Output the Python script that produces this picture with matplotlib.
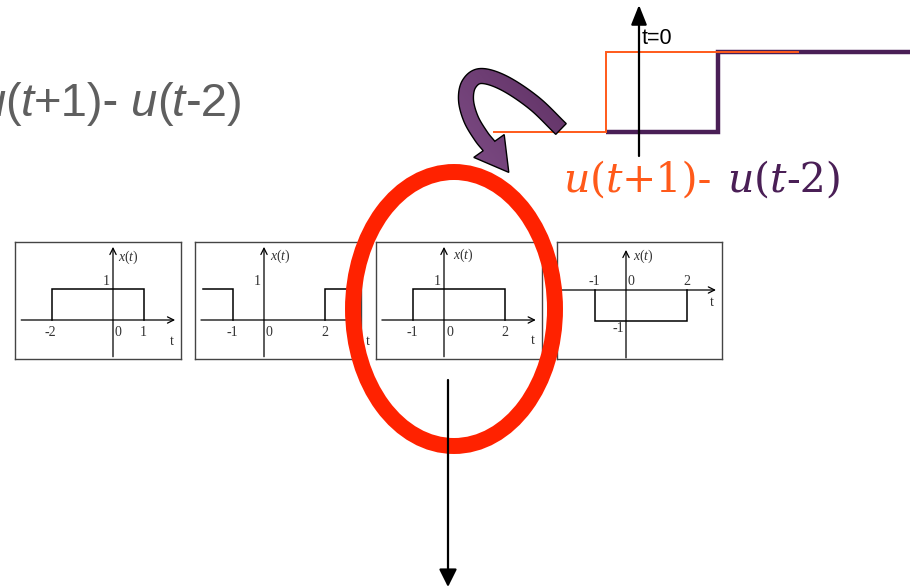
import matplotlib
matplotlib.use("Agg")
import matplotlib.pyplot as plt
from matplotlib.patches import Ellipse, Polygon
from matplotlib.colors import LinearSegmentedColormap
import numpy as np

W, H = 919, 588

# ---------------- data ----------------
# u(t+1) and u(t-2) step traces (top right)
u_plus_t = [-4, -1, -1, 4.15]
u_plus_v = [0, 0, 1, 1]
u_minus_t = [-1, 2, 2, 7.15]
u_minus_v = [0, 0, 1, 1]

# four candidate x(t) panels
p1_segments = [([-2, -2, 1, 1], [0, 1, 1, 0])]
p2_segments = [([-2, -1, -1], [1, 1, 0]), ([2, 2, 3], [0, 1, 1])]
p3_segments = [([-1, -1, 2, 2], [0, 1, 1, 0])]
p4_segments = [([-1, -1, 2, 2], [0, -1, -1, 0])]

p1_ticks = [-2, 0, 1]
p1_ticklabels = ["-2", "0", "1"]
p2_ticks = [-1, 0, 2]
p2_ticklabels = ["-1", "0", "2"]
p3_ticks = [-1, 0, 2]
p3_ticklabels = ["-1", "0", "2"]
p4_ticks = [-1, 0, 2]
p4_ticklabels = ["-1", "0", "2"]
p1_level = (1, "1")
p2_level = (1, "1")
p3_level = (1, "1")
p4_level = (-1, "-1")

plt.rcParams["mathtext.fontset"] = "custom"
plt.rcParams["mathtext.rm"] = "Liberation Serif"
plt.rcParams["mathtext.it"] = "Liberation Serif:italic"

fig = plt.figure(figsize=(W / 100, H / 100), dpi=100)
fig.patch.set_facecolor("white")

S = 30.6  # px per unit in panels
TXT = "#333333"
PFS = 10

panels = [
    dict(box=(15, 181, 242, 359), origin=(113, 320), seg=p1_segments, ticks=p1_ticks,
         labels=p1_ticklabels, level=p1_level, harr=(-3.0, 2.03), varr=(-1.2, 2.39),
         tlab=(1.93, -0.69), xlab=(0.5, 2.05), zero_dx=0.17, tick_dy=-0.42),
    dict(box=(195, 361, 242, 359), origin=(264, 320), seg=p2_segments, ticks=p2_ticks,
         labels=p2_ticklabels, level=p2_level, harr=(-2.06, 3.2), varr=(-1.2, 2.39),
         tlab=(3.4, -0.69), xlab=(0.52, 2.08), zero_dx=0.17, tick_dy=-0.42),
    dict(box=(376, 542, 242, 359), origin=(444, 320), seg=p3_segments, ticks=p3_ticks,
         labels=p3_ticklabels, level=p3_level, harr=(-2.03, 3.0), varr=(-1.2, 2.39),
         tlab=(2.9, -0.67), xlab=(0.62, 2.1), zero_dx=0.2, tick_dy=-0.42),
    dict(box=(557, 722, 242, 359), origin=(626, 290), seg=p4_segments, ticks=p4_ticks,
         labels=p4_ticklabels, level=p4_level, harr=(-2.09, 2.94), varr=(-2.22, 1.31),
         tlab=(2.81, -0.42), xlab=(0.56, 1.1), zero_dx=0.17, tick_dy=0.27),
]

for p in panels:
    l, r, t, b = p["box"]
    ox, oy = p["origin"]
    ax = fig.add_axes([l / W, 1 - b / H, (r - l) / W, (b - t) / H])
    ax.set_zorder(1)
    ax.set_xlim((l - ox) / S, (r - ox) / S)
    ax.set_ylim((oy - b) / S, (oy - t) / S)
    ax.set_xticks([])
    ax.set_yticks([])
    for sp in ax.spines.values():
        sp.set_color("#444444")
        sp.set_linewidth(1.0)
    ap = dict(arrowstyle="->,head_length=0.5,head_width=0.25", lw=0.9, color="black",
              shrinkA=0, shrinkB=0, mutation_scale=9)
    ax.annotate("", xy=(p["harr"][1], 0), xytext=(p["harr"][0], 0), arrowprops=ap,
                annotation_clip=False)
    ax.annotate("", xy=(0, p["varr"][1]), xytext=(0, p["varr"][0]), arrowprops=ap,
                annotation_clip=False)
    for ts, vs in p["seg"]:
        ax.plot(ts, vs, color="black", lw=1.1, solid_joinstyle="miter")
    for tk, lb in zip(p["ticks"], p["labels"]):
        xx = tk + p["zero_dx"] if tk == 0 else (tk - 0.05 if lb.startswith("-") else tk)
        ax.text(xx, p["tick_dy"], lb, ha="center", va="center", fontsize=PFS,
                family="Liberation Serif", color=TXT)
    lv, lt = p["level"]
    ax.text(-0.22 if lv > 0 else -0.26, lv * 1.27, lt, ha="center", va="center",
            fontsize=PFS, family="Liberation Serif", color=TXT)
    ax.text(p["tlab"][0], p["tlab"][1], "t", ha="center", va="center", fontsize=PFS,
            family="Liberation Serif", color=TXT)
    ax.text(p["xlab"][0], p["xlab"][1], r"$x(t)$", ha="center", va="center",
            fontsize=PFS, color=TXT)

# ---------------- step traces top right ----------------
SX = 37.33
T0 = 643.3
sl, sr, st, sb = 480, 919, 30, 150
axs = fig.add_axes([sl / W, 1 - sb / H, (sr - sl) / W, (sb - st) / H])
axs.set_zorder(2)
axs.set_xlim((sl - T0) / SX, (sr - T0) / SX)
axs.set_ylim((132 - sb) / 80, (132 - st) / 80)
axs.axis("off")
axs.plot(u_minus_t, u_minus_v, color="#4A1F56", lw=3.2, solid_joinstyle="miter",
         solid_capstyle="butt")
axs.plot(u_plus_t, u_plus_v, color="#FF5A1A", lw=1.4, solid_joinstyle="miter")

# ---------------- overlay ----------------
ax0 = fig.add_axes([0, 0, 1, 1])
ax0.set_zorder(5)
ax0.patch.set_visible(False)
ax0.set_xlim(0, W)
ax0.set_ylim(H, 0)
ax0.axis("off")

# up arrow t=0
ax0.annotate("", xy=(639, 5), xytext=(639, 156),
             arrowprops=dict(arrowstyle="-|>,head_length=0.5,head_width=0.2", lw=1.6,
                             color="black", shrinkA=0, shrinkB=0, mutation_scale=24))
ax0.text(642, 39, "t=0", fontsize=15.5, family="Liberation Sans", color="black",
         ha="left", va="center")

# red ellipse
ax0.add_patch(Ellipse((454, 309), 202, 274, fill=False, ec="#FF2200", lw=11.5))

# down arrow
ax0.annotate("", xy=(448, 587), xytext=(448, 380),
             arrowprops=dict(arrowstyle="-|>,head_length=0.4,head_width=0.2", lw=1.6,
                             color="black", shrinkA=0, shrinkB=0, mutation_scale=27))


# curved purple ribbon arrow (decorative shape)
def catmull(pts, n=12):
    pts = np.asarray(pts, float)
    P = np.vstack([2 * pts[0] - pts[1], pts, 2 * pts[-1] - pts[-2]])
    out = []
    for i in range(1, len(P) - 2):
        p0, p1, p2, p3 = P[i - 1], P[i], P[i + 1], P[i + 2]
        for s in np.linspace(0, 1, n, endpoint=False):
            out.append(0.5 * ((2 * p1) + (-p0 + p2) * s + (2 * p0 - 5 * p1 + 4 * p2 - p3) * s ** 2
                              + (-p0 + 3 * p1 - 3 * p2 + p3) * s ** 3))
    out.append(P[-2])
    return np.array(out)


guide = [(561, 129), (534, 103), (504, 83), (481, 76), (469, 84), (466, 100),
         (471, 119), (481, 136), (489, 146)]
cl = catmull(guide)
d = np.gradient(cl, axis=0)
nrm = np.stack([-d[:, 1], d[:, 0]], axis=1)
nrm /= np.linalg.norm(nrm, axis=1, keepdims=True)
hw = 7.5
sideA = cl + hw * nrm
sideB = cl - hw * nrm
end = cl[-1]
u = np.array([0.6, 0.8])
un = np.array([-u[1], u[0]])
if np.dot(un, nrm[-1]) < 0:
    un = -un
headA = end + 19 * un
headB = end - 19 * un
tip = end + 33 * u
poly_pts = np.vstack([sideA, headA, tip, headB, sideB[::-1]])
rib = Polygon(poly_pts, closed=True, fc="none", ec="black", lw=1.0, zorder=6,
              joinstyle="miter")
ax0.add_patch(rib)
cmap = LinearSegmentedColormap.from_list("pp", ["#82508A", "#5A2C5E"])
gx, gy = np.meshgrid(np.linspace(0, 1, 60), np.linspace(0, 1, 60))
grad = 0.6 * gx + 0.4 * (1 - gy)
fill = ax0.imshow(grad, extent=(440, 590, 185, 55), cmap=cmap, aspect="auto",
                  interpolation="bilinear", zorder=5)
fill.set_clip_path(rib)
ax0.set_xlim(0, W)
ax0.set_ylim(H, 0)

renderer = fig.canvas.get_renderer()


def place_runs(ax, x, y, runs, size, family, gap):
    for s, style, color in runs:
        if s == " ":
            x += gap
            continue
        tt = ax.text(x, y, s, fontsize=size, family=family, style=style, color=color,
                     ha="left", va="baseline", zorder=7)
        x += tt.get_window_extent(renderer).width
    return x


ORANGE = "#FF5A1A"
PURPLE = "#4A1F56"
runs_col = [("u", "italic", ORANGE), ("(", "normal", ORANGE), ("t", "italic", ORANGE),
            ("+1)-", "normal", ORANGE), (" ", None, None),
            ("u", "italic", PURPLE), ("(", "normal", PURPLE), ("t", "italic", PURPLE),
            ("-2)", "normal", PURPLE)]
place_runs(ax0, 563, 192, runs_col, 29.5, "DejaVu Serif", 15)

GREY = "#5F5F5F"
GFS = 34
runs_grey = [("u", "italic", GREY), ("(", "normal", GREY), ("t", "italic", GREY),
             ("+1)-", "normal", GREY), (" ", None, None),
             ("u", "italic", GREY), ("(", "normal", GREY), ("t", "italic", GREY),
             ("-2)", "normal", GREY)]
tmp = []
wtot = 0
for s, style, color in runs_grey:
    if s == " ":
        wtot += 11
        continue
    tt = ax0.text(0, 0, s, fontsize=GFS, family="Liberation Sans", style=style)
    wtot += tt.get_window_extent(renderer).width
    tmp.append(tt)
for tt in tmp:
    tt.remove()
place_runs(ax0, 243 - wtot, 116, runs_grey, GFS, "Liberation Sans", 11)

fig.savefig("out.png", dpi=100, facecolor="white")
